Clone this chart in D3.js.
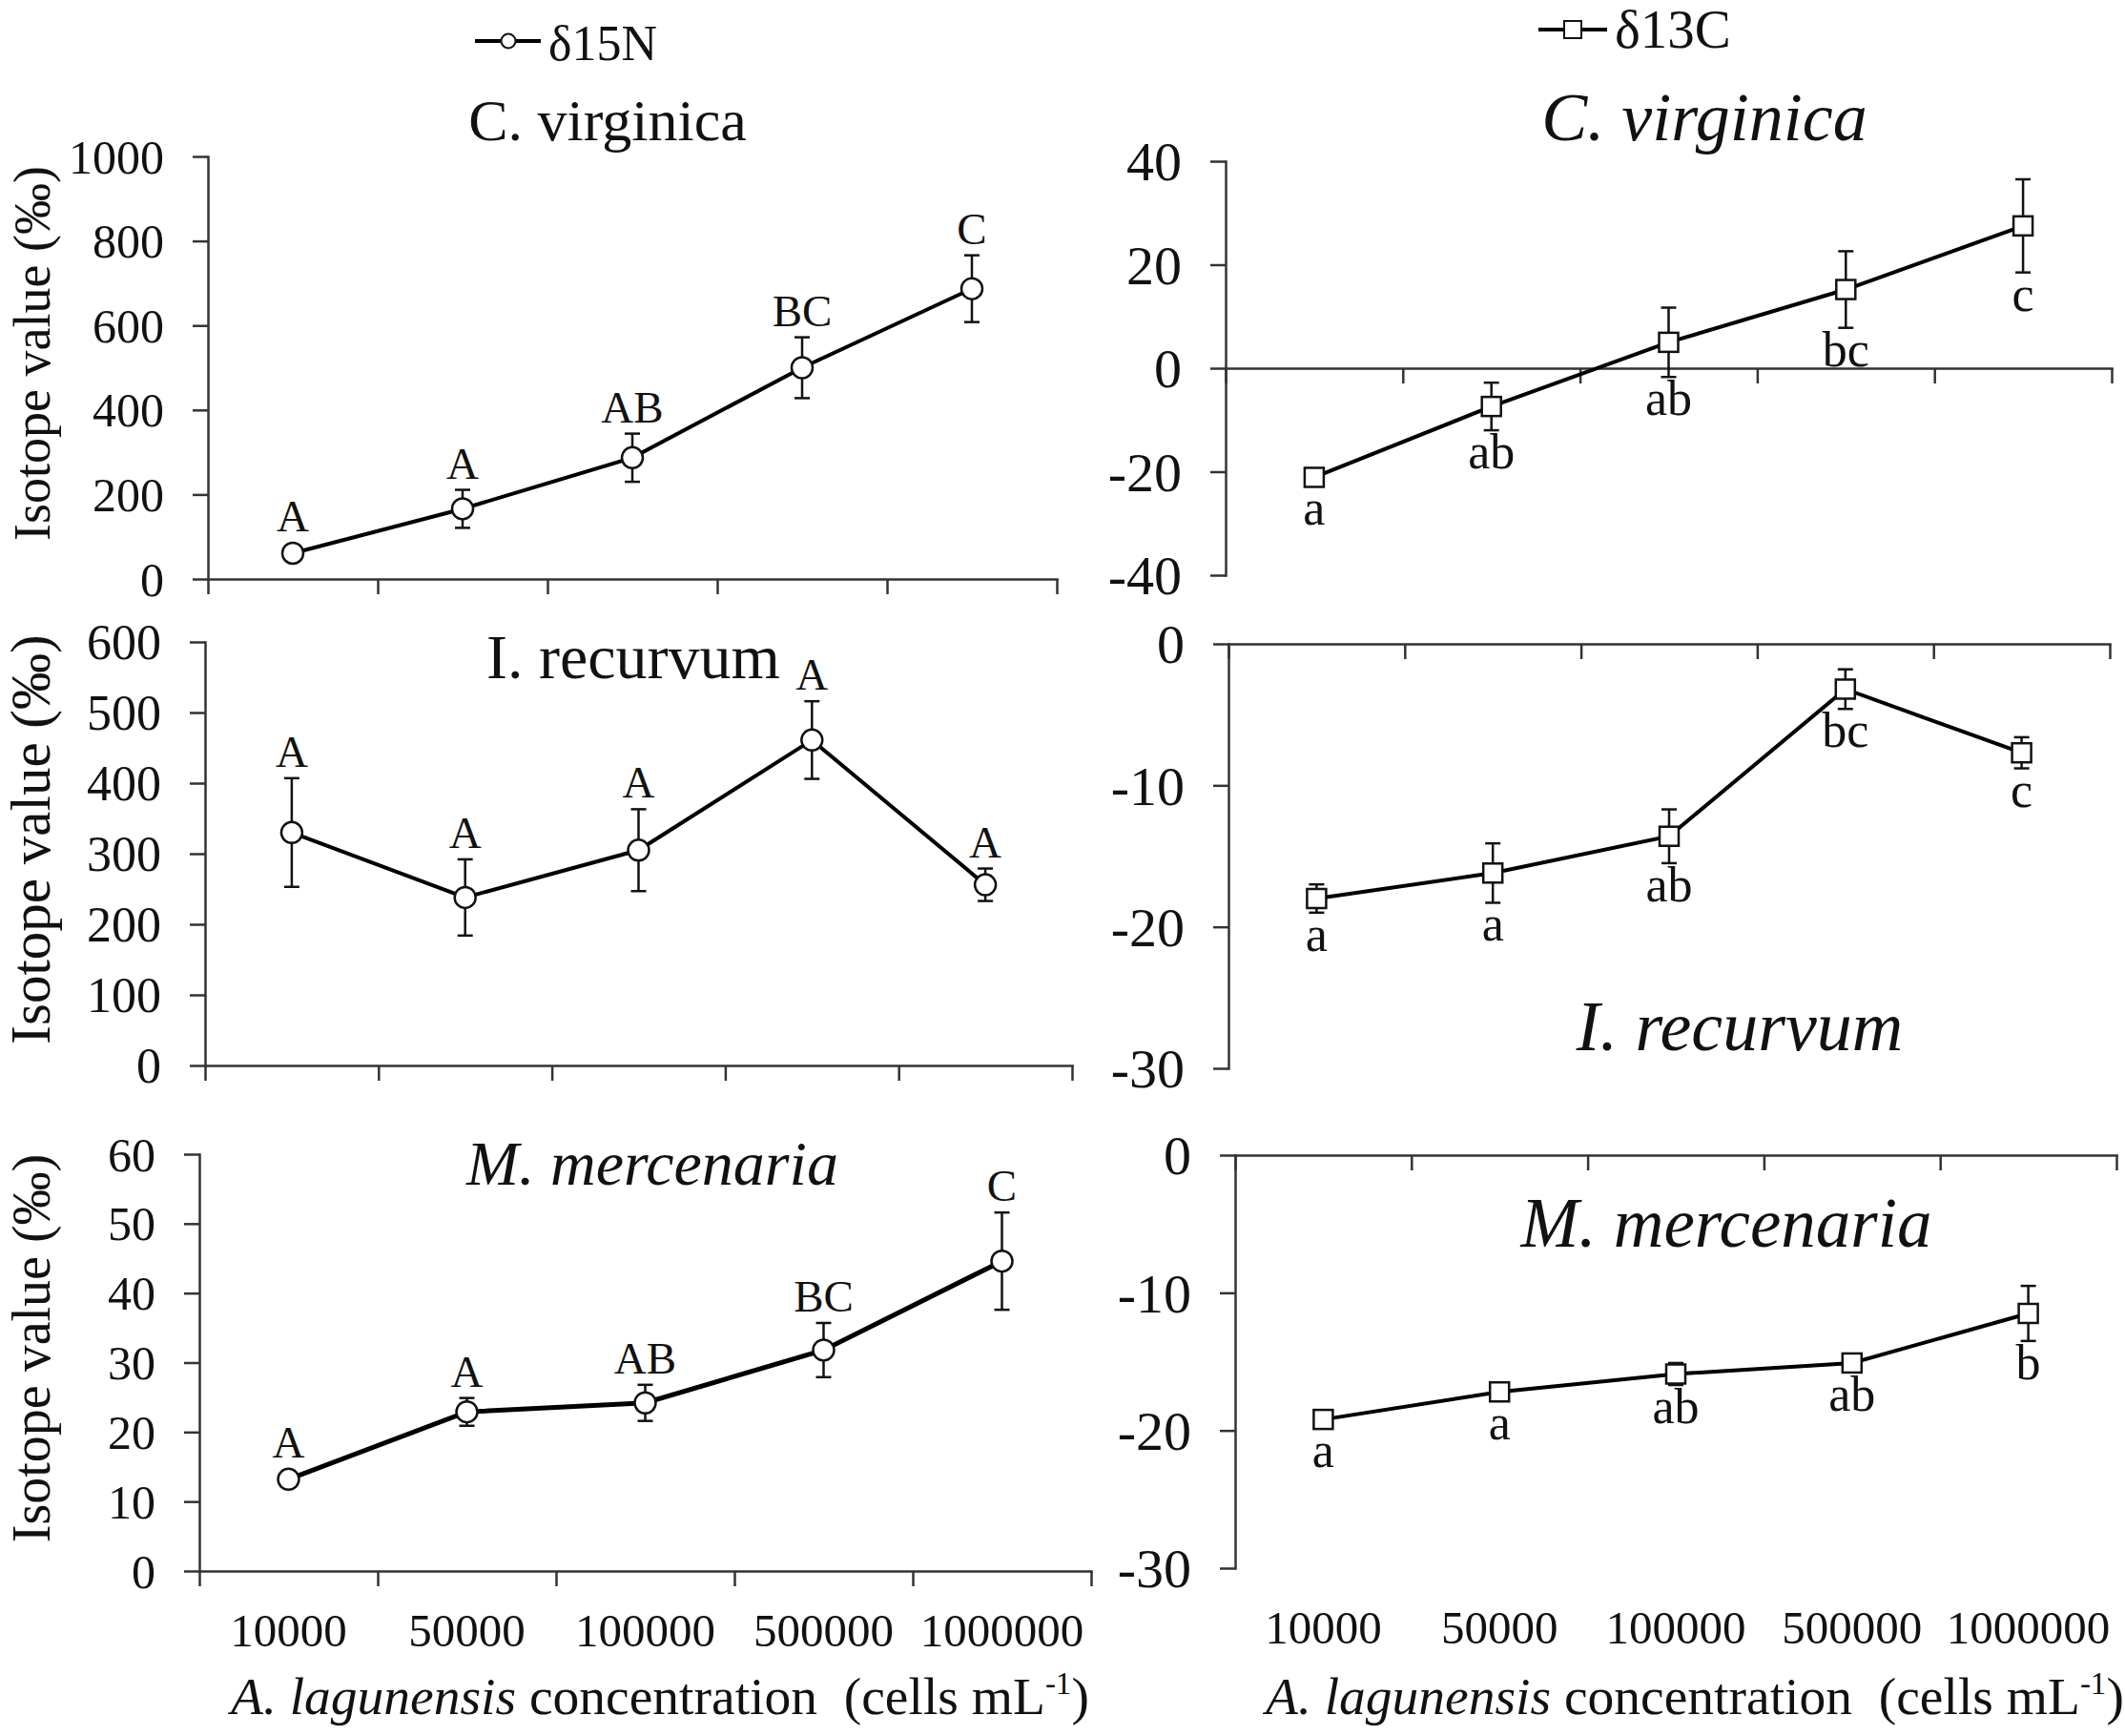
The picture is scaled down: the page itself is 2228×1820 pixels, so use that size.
<!DOCTYPE html>
<html>
<head>
<meta charset="utf-8">
<script src="https://cdn.jsdelivr.net/npm/d3@7"></script>
<style>
  body { margin: 0; background: #fff; }
  text { font-family: "Liberation Serif", "Times New Roman", serif; fill: #111; }
</style>
</head>
<body>
<script>
// concentrations of A. lagunensis (cells mL-1)
var concentrations = ["10000", "50000", "100000", "500000", "1000000"];

// d15N, left column
var cvN = [61, 166, 287, 500, 687];
var cvNErr = [10, 45, 57, 72, 79];
var cvNLetters = ["A", "A", "AB", "BC", "C"];

var irN = [330, 238, 305, 461, 256];
var irNErr = [77, 54, 58, 55, 23];
var irNLetters = ["A", "A", "A", "A", "A"];

var mmN = [13.2, 22.9, 24.2, 31.8, 44.6];
var mmNErr = [0.8, 2.0, 2.6, 3.9, 7.0];
var mmNLetters = ["A", "A", "AB", "BC", "C"];

// d13C, right column
var cvC = [-21.1, -7.4, 5.0, 15.2, 27.5];
var cvCErr = [0.8, 4.6, 6.7, 7.4, 9.0];
var cvCLetters = ["a", "ab", "ab", "bc", "c"];

var irC = [-18.0, -16.2, -13.6, -3.2, -7.7];
var irCErr = [1.0, 2.1, 1.9, 1.4, 1.1];
var irCLetters = ["a", "a", "ab", "bc", "c"];

var mmC = [-19.2, -17.2, -15.9, -15.1, -11.5];
var mmCErr = [0.3, 0.4, 0.8, 0.3, 2.0];
var mmCLetters = ["a", "a", "ab", "ab", "b"];

// y ticks
var cvNTicks = [0, 200, 400, 600, 800, 1000];
var irNTicks = [0, 100, 200, 300, 400, 500, 600];
var mmNTicks = [0, 10, 20, 30, 40, 50, 60];
var cvCTicks = [-40, -20, 0, 20, 40];
var irCTicks = [-30, -20, -10, 0];
var mmCTicks = [-30, -20, -10, 0];

var svg = d3.select("body").append("svg")
  .attr("width", 2228)
  .attr("height", 1820);

// panel boxes
var panels = [
  { v: cvN, e: cvNErr, l: cvNLetters, ticks: cvNTicks, x0: 218, x1: 1108, top: 164, bottom: 607,
    marker: "circle", above: true, tickFont: 50, yFont: 54, lw: 4,
    title: "C. virginica", italic: false, tx: 637, ty: 147, tFont: 62 },
  { v: irN, e: irNErr, l: irNLetters, ticks: irNTicks, x0: 215, x1: 1124, top: 673, bottom: 1117,
    marker: "circle", above: true, tickFont: 52, yFont: 59, lw: 4,
    title: "I. recurvum", italic: false, tx: 664, ty: 711, tFont: 66 },
  { v: mmN, e: mmNErr, l: mmNLetters, ticks: mmNTicks, x0: 209, x1: 1144, top: 1210, bottom: 1647,
    marker: "circle", above: true, tickFont: 50, yFont: 56, lw: 5, xLabels: true,
    title: "M. mercenaria", italic: true, tx: 684, ty: 1242, tFont: 66 },
  { v: cvC, e: cvCErr, l: cvCLetters, ticks: cvCTicks, x0: 1285, x1: 2214, top: 169, bottom: 603,
    marker: "square", above: false, tickFont: 58, lw: 4,
    title: "C. virginica", italic: true, tx: 1787, ty: 147, tFont: 72 },
  { v: irC, e: irCErr, l: irCLetters, ticks: irCTicks, x0: 1288, x1: 2212, top: 675, bottom: 1120,
    marker: "square", above: false, tickFont: 58, lw: 4,
    title: "I. recurvum", italic: true, tx: 1824, ty: 1101, tFont: 74 },
  { v: mmC, e: mmCErr, l: mmCLetters, ticks: mmCTicks, x0: 1295, x1: 2219, top: 1211, bottom: 1644,
    marker: "square", above: false, tickFont: 58, lw: 4, xLabels: true,
    title: "M. mercenaria", italic: true, tx: 1810, ty: 1307, tFont: 73 }
];

panels.forEach(function(p) {
  var g = svg.append("g");
  var y = d3.scaleLinear().domain(d3.extent(p.ticks)).range([p.bottom, p.top]);
  var x = d3.scaleBand().domain(concentrations).range([p.x0, p.x1]);
  var xEdge = d3.scaleLinear().domain([0, concentrations.length]).range([p.x0, p.x1]);
  var cx = function(i) { return x(concentrations[i]) + x.bandwidth() / 2; };

  // y axis
  var yAxis = g.append("g")
    .attr("transform", "translate(" + p.x0 + ",0)")
    .call(d3.axisLeft(y).tickValues(p.ticks).tickSize(16).tickPadding(30).tickSizeOuter(0)
      .tickFormat(function(d) { return String(d); }));
  yAxis.attr("font-family", null);
  yAxis.selectAll("text").style("font-size", p.tickFont + "px").attr("dy", "0.34em");

  // x axis, crossing at zero
  g.append("g")
    .attr("transform", "translate(0," + y(0) + ")")
    .call(d3.axisBottom(xEdge).tickValues(d3.range(concentrations.length + 1))
      .tickSize(16).tickSizeOuter(0).tickFormat(""));

  g.selectAll(".domain, .tick line").attr("stroke", "#333").attr("stroke-width", 2.5);
  g.selectAll(".domain").attr("stroke-linecap", "square");

  if (p.xLabels) {
    g.selectAll(".xlab").data(concentrations).enter().append("text")
      .attr("x", function(d, i) { return cx(i); })
      .attr("y", p.bottom + 79)
      .attr("text-anchor", "middle")
      .style("font-size", "49px")
      .text(function(d) { return d; });
  }

  if (p.yFont) {
    g.append("text")
      .attr("transform", "translate(52," + ((p.top + p.bottom) / 2 - 15) + ") rotate(-90)")
      .attr("text-anchor", "middle")
      .style("font-size", p.yFont + "px")
      .text("Isotope value (\u2030)");
  }

  // title
  g.append("text")
    .attr("x", p.tx).attr("y", p.ty)
    .attr("text-anchor", "middle")
    .style("font-size", p.tFont + "px")
    .style("font-style", p.italic ? "italic" : "normal")
    .text(p.title);

  // line
  var line = d3.line()
    .x(function(d, i) { return cx(i); })
    .y(function(d) { return y(d); });
  g.append("path").datum(p.v)
    .attr("d", line)
    .attr("fill", "none")
    .attr("stroke", "#000")
    .attr("stroke-width", p.lw);

  // error bars
  var eb = g.selectAll(".eb").data(p.v).enter().append("g");
  eb.append("line")
    .attr("x1", function(d, i) { return cx(i); })
    .attr("x2", function(d, i) { return cx(i); })
    .attr("y1", function(d, i) { return y(d - p.e[i]); })
    .attr("y2", function(d, i) { return y(d + p.e[i]); });
  [1, -1].forEach(function(s) {
    eb.append("line")
      .attr("x1", function(d, i) { return cx(i) - 8; })
      .attr("x2", function(d, i) { return cx(i) + 8; })
      .attr("y1", function(d, i) { return y(d + s * p.e[i]); })
      .attr("y2", function(d, i) { return y(d + s * p.e[i]); });
  });
  eb.selectAll("line").attr("stroke", "#111").attr("stroke-width", 2.5);

  // markers
  if (p.marker === "circle") {
    g.selectAll(".mk").data(p.v).enter().append("circle")
      .attr("cx", function(d, i) { return cx(i); })
      .attr("cy", function(d) { return y(d); })
      .attr("r", 11)
      .attr("fill", "#fff").attr("stroke", "#111").attr("stroke-width", 2.5);
  } else {
    g.selectAll(".mk").data(p.v).enter().append("rect")
      .attr("x", function(d, i) { return cx(i) - 10; })
      .attr("y", function(d) { return y(d) - 10; })
      .attr("width", 20).attr("height", 20)
      .attr("fill", "#fff").attr("stroke", "#111").attr("stroke-width", 2.5);
  }

  // significance letters
  g.selectAll(".let").data(p.l).enter().append("text")
    .attr("x", function(d, i) { return cx(i); })
    .attr("y", function(d, i) {
      var m = p.v[i];
      if (p.above) return Math.min(y(m + p.e[i]), y(m) - 11) - 12;
      return Math.max(y(m - p.e[i]), y(m) + 10) + 40;
    })
    .attr("text-anchor", "middle")
    .style("font-size", p.above ? "47px" : "52px")
    .text(function(d) { return d; });
});

// x axis titles
[242, 1327].forEach(function(x0) {
  var t = svg.append("text")
    .attr("x", x0).attr("y", 1797)
    .style("font-size", "55.5px")
    .style("white-space", "pre");
  t.append("tspan").style("font-style", "italic").text("A. lagunensis");
  t.append("tspan").text(" concentration  (cells mL");
  t.append("tspan").attr("dy", -21).style("font-size", "33px").text("-1");
  t.append("tspan").attr("dy", 21).text(")");
});

// legends
var legN = svg.append("g");
legN.append("line").attr("x1", 498).attr("x2", 567).attr("y1", 43).attr("y2", 43)
  .attr("stroke", "#000").attr("stroke-width", 4);
legN.append("circle").attr("cx", 533).attr("cy", 43).attr("r", 7.5)
  .attr("fill", "#fff").attr("stroke", "#111").attr("stroke-width", 2);
legN.append("text").attr("x", 575).attr("y", 63).style("font-size", "52px").text("\u03b415N");

var legC = svg.append("g");
legC.append("line").attr("x1", 1613).attr("x2", 1685).attr("y1", 31).attr("y2", 31)
  .attr("stroke", "#000").attr("stroke-width", 4);
legC.append("rect").attr("x", 1640).attr("y", 22).attr("width", 18).attr("height", 18)
  .attr("fill", "#fff").attr("stroke", "#111").attr("stroke-width", 2);
legC.append("text").attr("x", 1693).attr("y", 50).style("font-size", "57px").text("\u03b413C");
</script>
</body>
</html>
